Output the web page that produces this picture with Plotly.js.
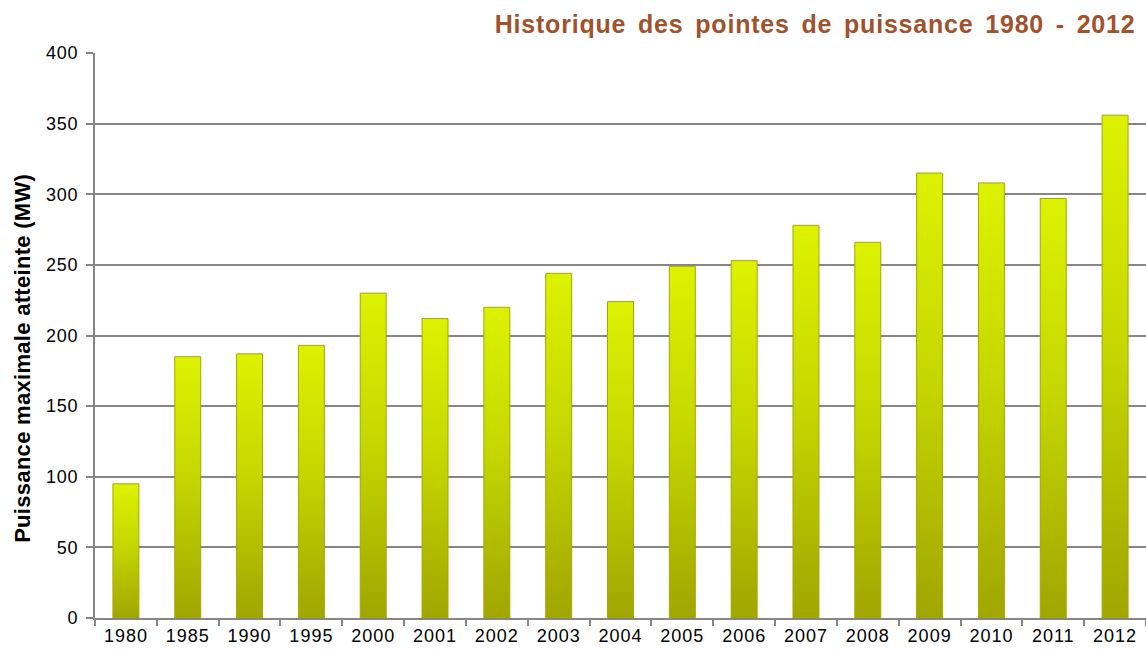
<!DOCTYPE html>
<html>
<head>
<meta charset="utf-8">
<script src="https://cdn.plot.ly/plotly-3.0.1.min.js"></script>
<style>
html,body{margin:0;padding:0;background:#fff;}
#chart{width:1146px;height:650px;}
#chart .gtitle{letter-spacing:0.8px;word-spacing:4px;}
#chart .xtick text{letter-spacing:1px;}
#chart .ytick text{letter-spacing:0.8px;}
#chart .annotation-text{letter-spacing:0.3px;}
</style>
</head>
<body>
<div id="chart"></div>
<script>
const years = ["1980","1985","1990","1995","2000","2001","2002","2003","2004","2005","2006","2007","2008","2009","2010","2011","2012"];
const peakMW = [95,185,187,193,230,212,220,244,224,249,253,278,266,315,308,297,356];
const titleText = 'Historique des pointes de puissance 1980 - 2012';
const yTitleText = 'Puissance maximale atteinte (MW)';

const trace = {
  type: 'bar',
  x: years,
  y: peakMW,
  marker: {
    color: '#C4D200',
    line: {color: '#A2AA00', width: 1}
  },
  hoverinfo: 'x+y'
};

const layout = {
  width: 1146, height: 650,
  margin: {l: 95, r: 0, t: 53, b: 32},
  paper_bgcolor: '#fff', plot_bgcolor: '#fff',
  bargap: 0.58,
  showlegend: false,
  font: {family: 'Liberation Sans, Arial, sans-serif', color: '#000'},
  title: {
    text: '<b>' + titleText + '</b>',
    font: {family: 'Liberation Sans, Arial, sans-serif', size: 25, color: '#A0522D'},
    x: 0.99, xanchor: 'right', xref: 'paper',
    y: 0.962, yanchor: 'middle'
  },
  xaxis: {
    type: 'category',
    showline: true, linecolor: '#868686', linewidth: 2,
    ticks: 'outside', tickson: 'boundaries', ticklen: 6, tickcolor: '#868686', tickwidth: 2,
    tickfont: {size: 18, color: '#000'},
    showgrid: false,
    fixedrange: true
  },
  yaxis: {
    range: [0, 400],
    dtick: 50,
    showline: true, linecolor: '#868686', linewidth: 2,
    ticks: 'outside', ticklen: 7, tickcolor: '#868686', tickwidth: 2,
    ticklabelstandoff: 4,
    tickfont: {size: 18, color: '#000'},
    showgrid: true, gridcolor: '#868686', gridwidth: 2,
    zeroline: false,
    fixedrange: true
  },
  annotations: [{
    text: '<b>' + yTitleText + '</b>',
    textangle: -90,
    xref: 'paper', yref: 'paper',
    x: -0.0695, xanchor: 'center',
    y: 0.46, yanchor: 'middle',
    showarrow: false,
    font: {size: 22, color: '#000'}
  }]
};

Plotly.newPlot('chart', [trace], layout, {displayModeBar: false, staticPlot: true}).then(function (gd) {
  // vertical gradient styling for the bars
  const svg = gd.querySelector('.main-svg');
  const ns = 'http://www.w3.org/2000/svg';
  let defs = svg.querySelector('defs');
  if (!defs) { defs = document.createElementNS(ns, 'defs'); svg.insertBefore(defs, svg.firstChild); }
  const g = document.createElementNS(ns, 'linearGradient');
  g.setAttribute('id', 'barGrad');
  g.setAttribute('x1', '0'); g.setAttribute('y1', '0');
  g.setAttribute('x2', '0'); g.setAttribute('y2', '1');
  [['0', '#DDF200'], ['0.45', '#C6D800'], ['1', '#A0A600']].forEach(function (s) {
    const st = document.createElementNS(ns, 'stop');
    st.setAttribute('offset', s[0]);
    st.setAttribute('stop-color', s[1]);
    g.appendChild(st);
  });
  defs.appendChild(g);
  gd.querySelectorAll('.bars .point path').forEach(function (p) {
    p.style.fill = 'url(#barGrad)';
  });
});
</script>
</body>
</html>
